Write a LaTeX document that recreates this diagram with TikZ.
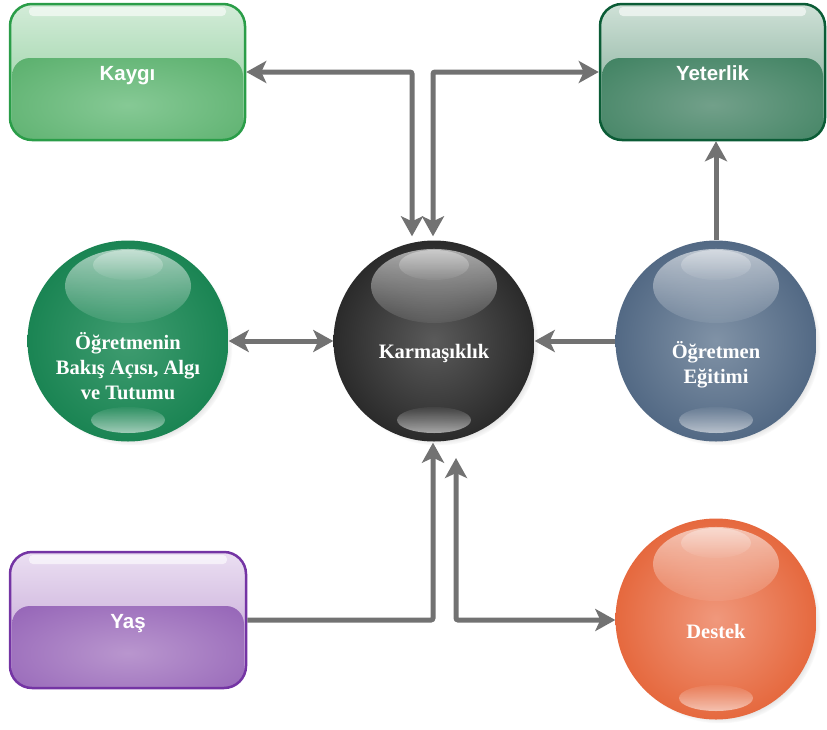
\documentclass[tikz,border=0pt]{standalone}
\usepackage{fontspec}
\setmainfont{Liberation Serif}
\setsansfont{Liberation Sans}
\usetikzlibrary{arrows.meta,shadows,fadings,calc}

\definecolor{lineg}{HTML}{727272}
% boxes
\definecolor{kayB}{HTML}{2A9D48}\definecolor{kayL}{HTML}{D3ECD8}\definecolor{kayM}{HTML}{86C995}\definecolor{kayD}{HTML}{48A55C}
\definecolor{yetB}{HTML}{0B5C36}\definecolor{yetL}{HTML}{CFE1D7}\definecolor{yetM}{HTML}{72A08A}\definecolor{yetD}{HTML}{2B7651}
\definecolor{yasB}{HTML}{7434A4}\definecolor{yasL}{HTML}{EBDFF2}\definecolor{yasM}{HTML}{B996CE}\definecolor{yasD}{HTML}{8650AE}
% balls
\definecolor{ogrM}{HTML}{3F9C70}\definecolor{ogrD}{HTML}{077844}
\definecolor{karM}{HTML}{5A5A5A}\definecolor{karD}{HTML}{121212}
\definecolor{egiM}{HTML}{8092A6}\definecolor{egiD}{HTML}{3B5473}
\definecolor{desM}{HTML}{F0987C}\definecolor{desD}{HTML}{E0501E}

\pgfdeclareradialshading[ballin,ballout]{ballshade}{\pgfpoint{0bp}{0bp}}{color(0bp)=(ballin); color(38bp)=(ballout); color(47bp)=(ballout); color(50bp)=(ballout!85!black)}
\pgfdeclareradialshading[bandin,bandout]{bandshade}{\pgfpoint{0bp}{0bp}}{color(0bp)=(bandin); color(50bp)=(bandout); color(80bp)=(bandout)}

\tikzfading[name=fadedown, top color=transparent!25, bottom color=transparent!92]
\tikzfading[name=fadeup, top color=transparent!95, bottom color=transparent!35]

\tikzset{
  >={Stealth[length=20pt,width=22pt,inset=5pt]},
  conn/.style={draw=lineg, line width=5pt, rounded corners=2pt},
  glossbox/.style={rectangle, rounded corners=22pt, minimum height=136pt,
    draw=#1B, line width=2.5pt, inner sep=0pt, text=white,
    text height=17pt, text depth=0pt,
    font=\sffamily\bfseries\fontsize{20.5}{24}\selectfont,
    path picture={
      \shade[top color=#1L, bottom color=#1M]
        (path picture bounding box.north west) rectangle (path picture bounding box.south east);
      \colorlet{bandin}{#1M}\colorlet{bandout}{#1D}
      \shade[shading=bandshade, rounded corners=18pt]
        ([xshift=2pt,yshift=-54pt]path picture bounding box.north west)
        rectangle ([xshift=-2pt,yshift=-12pt]path picture bounding box.south east);
      \fill[white, opacity=0.6, rounded corners=4pt]
        ([xshift=19pt,yshift=-3pt]path picture bounding box.north west)
        rectangle ([xshift=-19pt,yshift=-12pt]path picture bounding box.north east);
    }},
  glossball/.style={circle, minimum size=201pt, inner sep=0pt,
    circular drop shadow={shadow xshift=4pt, shadow yshift=-4pt, opacity=0.5, shadow scale=1.0},
    path picture={
      \colorlet{ballin}{#1M}\colorlet{ballout}{#1D}
      \shade[shading=ballshade]
        (path picture bounding box.south west) rectangle (path picture bounding box.north east);
      \fill[white, path fading=fadedown, fill opacity=0.8]
        ([yshift=55pt]path picture bounding box.center) ellipse [x radius=63pt, y radius=37pt];
      \fill[white, path fading=fadedown, fill opacity=0.5]
        ([yshift=76pt]path picture bounding box.center) ellipse [x radius=35pt, y radius=15pt];
      \fill[white, path fading=fadeup, fill opacity=0.9]
        ([yshift=-79pt]path picture bounding box.center) ellipse [x radius=37pt, y radius=13pt];
    }},
  balltext/.style={text=white, align=center, inner sep=0pt,
    font=\bfseries\fontsize{20.5}{25}\selectfont},
}

\begin{document}
\begin{tikzpicture}[x=1pt,y=-1pt]
\useasboundingbox (0,0) rectangle (827,729);

% boxes
\node[glossbox=kay, minimum width=235pt] (kaygi) at (127.5,72) {Kaygı};
\node[glossbox=yet, minimum width=225pt] (yet) at (712.5,72) {Yeterlik};
\node[glossbox=yas, minimum width=236pt] (yas) at (128,620) {Yaş};

% balls
\node[glossball=ogr] (ogr) at (128,341) {};
\node[glossball=kar] (karm) at (434,341) {};
\node[glossball=egi] (egit) at (716,341) {};
\node[glossball=des] (destek) at (716,619) {};

\node[balltext] (ogrtxt) at (128,366) {Öğretmenin\\Bakış Açısı, Algı\\ve Tutumu};
\node[balltext] (karmtxt) at (434,353) {Karmaşıklık};
\node[balltext] (egittxt) at (716,365) {Öğretmen\\Eğitimi};
\node[balltext] (destektxt) at (716,631) {Destek};

\coordinate (dtop) at (456,458);

% connectors
\draw[conn,<->] (kaygi.east) -| ([xshift=-22pt,yshift=4pt]karm.north);
\draw[conn,<->] (yet.west) -| ([xshift=-1pt,yshift=4pt]karm.north);
\draw[conn,<->] (ogr.east) -- (karm.west);
\draw[conn,->] (egit.west) -- (karm.east);
\draw[conn,->] (egit.north) -- (egit.north |- yet.south);
\draw[conn,->] (yas.east) -| ([xshift=-1pt,yshift=-1pt]karm.south);
\draw[conn,<->] (dtop) |- (yas.east -| destek.west);
\end{tikzpicture}
\end{document}
